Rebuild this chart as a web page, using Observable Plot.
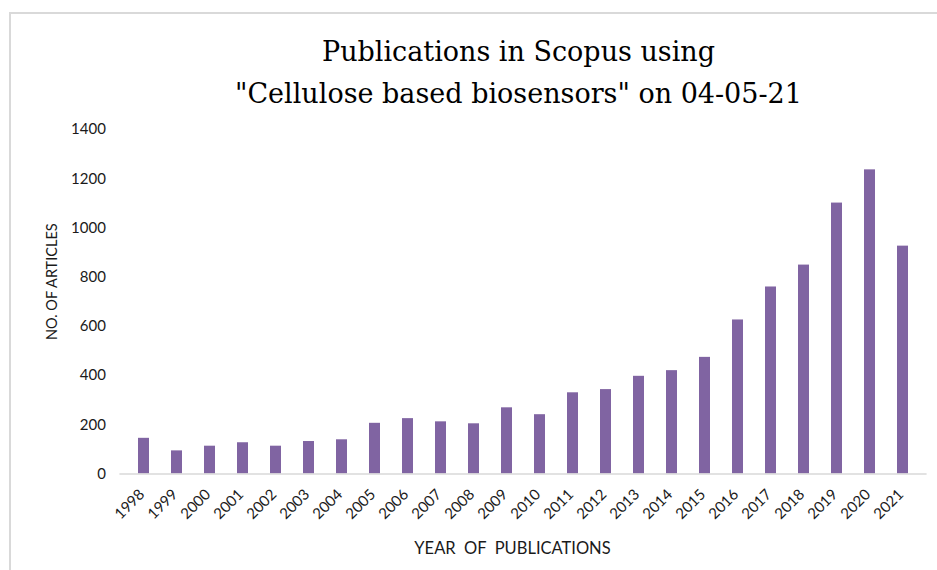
<!DOCTYPE html>
<html>
<head>
<meta charset="utf-8">
<script src="https://cdn.jsdelivr.net/npm/d3@7"></script>
<script src="https://cdn.jsdelivr.net/npm/@observablehq/plot@0.6"></script>
<style>
  html, body { margin: 0; padding: 0; background: #fff; overflow: hidden; }
  #wrap { position: relative; width: 937px; height: 570px; }
  #title {
    box-sizing: border-box; height: 110px; padding-top: 31px; padding-left: 100px;
    font-family: "DejaVu Serif", serif; font-size: 27px; line-height: 42px;
    text-align: center; color: #000;
  }
  #frame {
    position: absolute; left: 9px; top: 12px; width: 1000px; height: 1000px;
    border-top: 2px solid #d9d9d9; border-left: 2px solid #d9d9d9; pointer-events: none;
  }
  svg text { white-space: pre; }
</style>
</head>
<body>
<div id="wrap">
  <div id="title">Publications in Scopus using<br>"Cellulose based biosensors" on 04-05-21</div>
  <div id="chart"></div>
  <div id="frame"></div>
</div>
<script>
const years = ["1998","1999","2000","2001","2002","2003","2004","2005","2006","2007","2008","2009","2010","2011","2012","2013","2014","2015","2016","2017","2018","2019","2020","2021"];
const counts = [145, 94, 113, 127, 113, 132, 139, 206, 225, 212, 204, 269, 241, 330, 343, 397, 420, 474, 626, 760, 849, 1101, 1236, 926];
const yTicks = [0, 200, 400, 600, 800, 1000, 1200, 1400];
const yTitle = "NO. OF ARTICLES";
const xTitle = "YEAR  OF  PUBLICATIONS";

const data = years.map((y, i) => ({year: y, count: counts[i]}));

const chart = Plot.plot({
  width: 937,
  height: 460,
  marginLeft: 119.4,
  marginRight: 10.4,
  marginTop: 19,
  marginBottom: 96.5,
  x: {type: "band", domain: years, paddingInner: 0.673, paddingOuter: 0.3365},
  y: {domain: [0, 1400]},
  style: {fontFamily: "Lato, sans-serif", fontSize: "15px", color: "#1a1a1a", background: "transparent", overflow: "visible"},
  marks: [
    Plot.barY(data, {x: "year", y: "count", fill: "#8064a2"}),
    Plot.ruleY([0], {stroke: "#d9d9d9", strokeWidth: 1.5}),
    Plot.axisY({ticks: yTicks, tickFormat: d => String(d), tickSize: 0, tickPadding: 14, label: null, fontSize: 15}),
    Plot.axisX({tickSize: 0, tickRotate: -45, tickPadding: 18, dx: -2, label: null, fontSize: 15}),
    Plot.text([yTitle], {text: d => d, frameAnchor: "left", textAnchor: "middle", rotate: -90, dx: -68, dy: -20, fontSize: 14.5, fill: "#1a1a1a"}),
    Plot.text([xTitle], {text: d => d, frameAnchor: "bottom", textAnchor: "middle", dx: -11, dy: 80, fontSize: 16.5, fill: "#1a1a1a"})
  ]
});
document.getElementById("chart").appendChild(chart);
</script>
</body>
</html>
